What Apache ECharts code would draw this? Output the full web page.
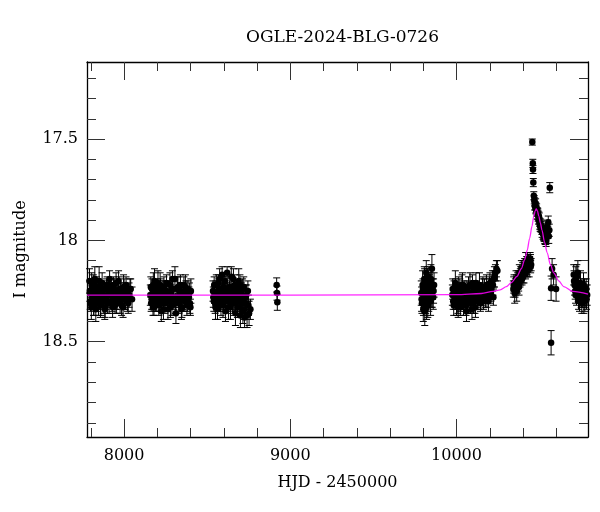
<!DOCTYPE html>
<html>
<head>
<meta charset="utf-8">
<script src="https://cdn.jsdelivr.net/npm/echarts@6/dist/echarts.min.js"></script>
<style>
  html, body { margin: 0; padding: 0; background: #fff; }
  #main { width: 600px; height: 512px; }
</style>
</head>
<body>
<div id="main"></div>
<script>
// season 1
var s1Hjd = [7792, 7796, 7800, 7803, 7806, 7809, 7812, 7815, 7818, 7822,
  7826, 7830, 7834, 7838, 7842, 7846, 7850, 7855, 7860, 7865,
  7870, 7875, 7880, 7886, 7892, 7898, 7904, 7910, 7916, 7922,
  7928, 7934, 7940, 7946, 7952, 7958, 7964, 7970, 7976, 7982,
  7988, 7994, 8000, 8006, 8012, 8020, 8030, 8040, 8048,
  7794, 7798, 7805, 7811, 7817, 7824, 7829, 7836, 7844, 7852,
  7858, 7868, 7878, 7884, 7895, 7901, 7913, 7919, 7931, 7937,
  7949, 7955, 7967, 7979, 7985, 7997, 8003, 8015, 8025, 8036]
var s1Mag = [18.20, 18.30, 18.26, 18.33, 18.24, 18.29, 18.27, 18.21, 18.31, 18.28,
  18.25, 18.34, 18.23, 18.29, 18.26, 18.31, 18.20, 18.28, 18.32, 18.25,
  18.27, 18.30, 18.24, 18.33, 18.29, 18.22, 18.27, 18.31, 18.26, 18.23,
  18.30, 18.28, 18.25, 18.32, 18.21, 18.29, 18.27, 18.24, 18.31, 18.26,
  18.28, 18.33, 18.25, 18.29, 18.22, 18.30, 18.27, 18.24, 18.29,
  18.25, 18.31, 18.22, 18.28, 18.33, 18.19, 18.26, 18.30, 18.23, 18.29,
  18.32, 18.21, 18.27, 18.34, 18.24, 18.30, 18.19, 18.26, 18.33, 18.22,
  18.28, 18.31, 18.20, 18.25, 18.32, 18.23, 18.29, 18.26, 18.31, 18.24]
var s1Err = [0.06, 0.04, 0.05, 0.06, 0.04, 0.05, 0.05, 0.04, 0.06, 0.05,
  0.04, 0.06, 0.05, 0.05, 0.04, 0.06, 0.07, 0.05, 0.05, 0.04,
  0.05, 0.06, 0.04, 0.05, 0.05, 0.04, 0.06, 0.05, 0.05, 0.04,
  0.05, 0.05, 0.06, 0.04, 0.05, 0.05, 0.04, 0.06, 0.05, 0.05,
  0.04, 0.05, 0.06, 0.05, 0.04, 0.05, 0.06, 0.05, 0.06,
  0.05, 0.04, 0.06, 0.05, 0.04, 0.06, 0.05, 0.05, 0.04, 0.05,
  0.06, 0.05, 0.04, 0.05, 0.05, 0.06, 0.04, 0.05, 0.05, 0.04,
  0.06, 0.05, 0.05, 0.04, 0.05, 0.06, 0.05, 0.04, 0.05, 0.05]

// season 2
var s2Hjd = [8158, 8163, 8168, 8172, 8176, 8180, 8185, 8190, 8194, 8199,
  8204, 8209, 8214, 8219, 8224, 8229, 8234, 8240, 8246, 8252,
  8258, 8264, 8270, 8276, 8282, 8288, 8294, 8300, 8306, 8312,
  8318, 8324, 8330, 8336, 8342, 8348, 8354, 8360, 8366, 8372,
  8378, 8384, 8390, 8396, 8402,
  8161, 8166, 8174, 8183, 8188, 8197, 8202, 8212, 8217, 8227,
  8237, 8243, 8255, 8261, 8273, 8279, 8291, 8297, 8309, 8321,
  8327, 8339, 8345, 8357, 8369, 8381, 8393, 8399]
var s2Mag = [18.27, 18.31, 18.24, 18.29, 18.22, 18.33, 18.26, 18.30, 18.25, 18.28,
  18.21, 18.32, 18.27, 18.24, 18.35, 18.29, 18.26, 18.23, 18.31, 18.28,
  18.25, 18.34, 18.30, 18.22, 18.27, 18.32, 18.24, 18.29, 18.19, 18.36,
  18.28, 18.23, 18.31, 18.27, 18.25, 18.33, 18.29, 18.22, 18.30, 18.26,
  18.32, 18.24, 18.28, 18.31, 18.25,
  18.23, 18.29, 18.33, 18.20, 18.27, 18.31, 18.24, 18.30, 18.22, 18.28,
  18.34, 18.25, 18.21, 18.30, 18.26, 18.33, 18.19, 18.28, 18.31, 18.24,
  18.29, 18.22, 18.34, 18.27, 18.23, 18.30, 18.26, 18.33]
var s2Err = [0.05, 0.04, 0.05, 0.05, 0.06, 0.04, 0.05, 0.05, 0.04, 0.05,
  0.06, 0.05, 0.04, 0.05, 0.05, 0.04, 0.06, 0.05, 0.05, 0.04,
  0.05, 0.05, 0.04, 0.06, 0.05, 0.05, 0.04, 0.05, 0.06, 0.05,
  0.04, 0.05, 0.05, 0.06, 0.04, 0.05, 0.05, 0.04, 0.05, 0.06,
  0.05, 0.04, 0.05, 0.05, 0.06,
  0.05, 0.05, 0.04, 0.06, 0.05, 0.04, 0.05, 0.05, 0.06, 0.04,
  0.05, 0.05, 0.04, 0.05, 0.06, 0.05, 0.04, 0.05, 0.05, 0.06,
  0.04, 0.05, 0.05, 0.04, 0.06, 0.05, 0.05, 0.04]

// season 3
var s3Hjd = [8535, 8540, 8545, 8550, 8555, 8560, 8565, 8570, 8575, 8580,
  8585, 8590, 8595, 8600, 8605, 8610, 8615, 8620, 8625, 8630,
  8635, 8640, 8645, 8650, 8655, 8660, 8665, 8670, 8675, 8680,
  8685, 8690, 8695, 8700, 8705, 8710, 8715, 8720, 8725, 8730,
  8735, 8740, 8745, 8752, 8760,
  8537, 8542, 8548, 8553, 8562, 8568, 8577, 8583, 8592, 8598,
  8607, 8613, 8622, 8628, 8637, 8643, 8652, 8658, 8667, 8673,
  8682, 8688, 8697, 8707, 8713, 8722, 8732, 8748]
var s3Mag = [18.25, 18.30, 18.27, 18.33, 18.22, 18.28, 18.31, 18.24, 18.19, 18.29,
  18.26, 18.17, 18.32, 18.23, 18.28, 18.35, 18.25, 18.16, 18.30, 18.27,
  18.24, 18.33, 18.18, 18.29, 18.26, 18.31, 18.22, 18.36, 18.27, 18.24,
  18.30, 18.20, 18.33, 18.37, 18.26, 18.29, 18.35, 18.23, 18.38, 18.31,
  18.27, 18.37, 18.25, 18.36, 18.34,
  18.28, 18.22, 18.31, 18.26, 18.34, 18.21, 18.27, 18.32, 18.24, 18.29,
  18.20, 18.30, 18.26, 18.33, 18.23, 18.28, 18.31, 18.19, 18.29, 18.25,
  18.33, 18.27, 18.22, 18.31, 18.24, 18.34, 18.28, 18.32]
var s3Err = [0.05, 0.05, 0.04, 0.06, 0.05, 0.05, 0.04, 0.05, 0.05, 0.06,
  0.05, 0.04, 0.06, 0.05, 0.05, 0.05, 0.04, 0.03, 0.05, 0.05,
  0.04, 0.06, 0.05, 0.05, 0.04, 0.06, 0.05, 0.06, 0.05, 0.04,
  0.05, 0.06, 0.05, 0.06, 0.05, 0.04, 0.06, 0.05, 0.05, 0.06,
  0.05, 0.06, 0.05, 0.06, 0.05,
  0.05, 0.04, 0.05, 0.06, 0.05, 0.04, 0.05, 0.05, 0.06, 0.05,
  0.04, 0.05, 0.05, 0.06, 0.05, 0.04, 0.05, 0.05, 0.06, 0.05,
  0.05, 0.04, 0.05, 0.06, 0.05, 0.05, 0.06, 0.05]

// lone points
var s3bHjd = [8918, 8920, 8922]
var s3bMag = [18.22, 18.26, 18.305]
var s3bErr = [0.035, 0.035, 0.04]

// season 4
var s4Hjd = [9788, 9792, 9796, 9800, 9803, 9806, 9809, 9812, 9815, 9818,
  9821, 9824, 9827, 9830, 9833, 9836, 9840, 9844, 9848, 9852,
  9856, 9860, 9865,
  9790, 9798, 9801, 9808, 9814, 9820, 9826, 9832, 9838, 9846,
  9854, 9862]
var s4Mag = [18.26, 18.31, 18.22, 18.34, 18.28, 18.19, 18.35, 18.25, 18.30, 18.16,
  18.27, 18.23, 18.32, 18.18, 18.29, 18.25, 18.21, 18.30, 18.27, 18.14,
  18.24, 18.28, 18.22,
  18.29, 18.24, 18.31, 18.21, 18.27, 18.33, 18.20, 18.26, 18.23, 18.19,
  18.28, 18.25]
var s4Err = [0.06, 0.05, 0.07, 0.06, 0.05, 0.06, 0.07, 0.05, 0.06, 0.06,
  0.05, 0.07, 0.06, 0.05, 0.06, 0.06, 0.05, 0.07, 0.06, 0.07,
  0.05, 0.06, 0.06,
  0.06, 0.05, 0.06, 0.07, 0.05, 0.06, 0.06, 0.05, 0.06, 0.07,
  0.05, 0.06]

// season 5
var s5Hjd = [9975, 9980, 9985, 9990, 9995, 10000, 10005, 10010, 10015, 10020,
  10025, 10030, 10036, 10042, 10048, 10054, 10060, 10066, 10072, 10078,
  10084, 10090, 10096, 10102, 10108, 10114, 10120, 10126, 10132, 10138,
  10144, 10150, 10156, 10162, 10168, 10174, 10180, 10186, 10192, 10198,
  10204, 10210, 10216, 10222, 10228, 10234, 10240, 10246,
  9977, 9983, 9988, 9993, 9998, 10003, 10008, 10013, 10018, 10023,
  10028, 10033, 10039, 10045, 10051, 10057, 10063, 10069, 10075, 10081,
  10087, 10093, 10099, 10105, 10111, 10117, 10123, 10135, 10147, 10159,
  10171, 10183, 10195, 10201, 10207, 10219, 10225]
var s5Mag = [18.27, 18.30, 18.25, 18.29, 18.23, 18.31, 18.27, 18.33, 18.26, 18.24,
  18.30, 18.28, 18.22, 18.32, 18.27, 18.25, 18.35, 18.29, 18.23, 18.28,
  18.31, 18.26, 18.21, 18.30, 18.27, 18.33, 18.24, 18.29, 18.26, 18.22,
  18.31, 18.27, 18.24, 18.30, 18.25, 18.28, 18.22, 18.26, 18.30, 18.23,
  18.27, 18.24, 18.20, 18.28, 18.18, 18.16, 18.14, 18.15,
  18.24, 18.32, 18.27, 18.21, 18.29, 18.25, 18.31, 18.23, 18.28, 18.33,
  18.26, 18.22, 18.30, 18.25, 18.28, 18.32, 18.24, 18.27, 18.31, 18.22,
  18.29, 18.34, 18.26, 18.24, 18.30, 18.21, 18.28, 18.25, 18.29, 18.23,
  18.26, 18.29, 18.24, 18.21, 18.26, 18.22, 18.19]
var s5Err = [0.05, 0.04, 0.05, 0.05, 0.04, 0.06, 0.05, 0.05, 0.04, 0.05,
  0.05, 0.04, 0.06, 0.05, 0.05, 0.04, 0.05, 0.06, 0.05, 0.04,
  0.05, 0.05, 0.04, 0.06, 0.05, 0.05, 0.04, 0.05, 0.05, 0.06,
  0.04, 0.05, 0.05, 0.04, 0.06, 0.05, 0.05, 0.04, 0.05, 0.05,
  0.04, 0.05, 0.05, 0.04, 0.05, 0.04, 0.04, 0.05,
  0.05, 0.05, 0.04, 0.06, 0.05, 0.04, 0.05, 0.05, 0.06, 0.04,
  0.05, 0.05, 0.04, 0.05, 0.06, 0.05, 0.04, 0.05, 0.05, 0.06,
  0.04, 0.05, 0.05, 0.04, 0.06, 0.05, 0.05, 0.04, 0.05, 0.05,
  0.05, 0.04, 0.05, 0.05, 0.04, 0.05, 0.04]

// season 6, rising branch
var s6Hjd = [10342, 10346, 10350, 10354, 10358, 10362, 10366, 10370, 10374, 10378,
  10382, 10386, 10390, 10394, 10398, 10402, 10406, 10410, 10413, 10416,
  10419, 10422, 10425, 10428, 10431, 10434, 10437, 10440, 10443, 10446,
  10449,
  10344, 10352, 10360, 10368, 10376, 10384, 10392, 10400, 10408, 10415,
  10421, 10427, 10433, 10439, 10445]
var s6Mag = [18.24, 18.21, 18.26, 18.23, 18.19, 18.25, 18.22, 18.18, 18.21, 18.16,
  18.20, 18.17, 18.14, 18.19, 18.15, 18.13, 18.17, 18.12, 18.15, 18.10,
  18.14, 18.11, 18.13, 18.09, 18.12, 18.10, 18.14, 18.11, 18.09, 18.13,
  18.12,
  18.22, 18.24, 18.21, 18.19, 18.23, 18.18, 18.16, 18.17, 18.14, 18.16,
  18.12, 18.15, 18.11, 18.12, 18.10]
var s6Err = [0.04, 0.04, 0.05, 0.04, 0.04, 0.05, 0.04, 0.03, 0.04, 0.04,
  0.03, 0.04, 0.04, 0.03, 0.04, 0.03, 0.04, 0.03, 0.03, 0.04,
  0.03, 0.03, 0.04, 0.03, 0.03, 0.03, 0.04, 0.03, 0.03, 0.03,
  0.03,
  0.04, 0.04, 0.04, 0.03, 0.04, 0.04, 0.03, 0.04, 0.03, 0.03,
  0.03, 0.03, 0.03, 0.03, 0.03]

// season 6, peak and decline
var s6pHjd = [10456, 10459, 10460, 10462, 10465, 10468,
  10470, 10473, 10476, 10479, 10482, 10485, 10488, 10491, 10494, 10497, 10500, 10503,
  10506, 10509, 10512, 10515, 10518, 10521, 10524, 10527, 10530, 10533, 10536, 10539,
  10471, 10477, 10483, 10489, 10495, 10501, 10507, 10513, 10519, 10525, 10531, 10537,
  10546, 10549, 10552, 10555, 10558,
  10561,
  10569, 10575, 10584, 10599, 10569]
var s6pMag = [17.515, 17.62, 17.65, 17.715, 17.78, 17.80,
  17.81, 17.83, 17.82, 17.85, 17.84, 17.87, 17.86, 17.88, 17.90, 17.89, 17.91, 17.93,
  17.92, 17.94, 17.93, 17.96, 17.95, 17.97, 17.96, 17.98, 17.97, 17.99, 17.98, 18.00,
  17.83, 17.84, 17.86, 17.87, 17.88, 17.92, 17.93, 17.95, 17.94, 17.97, 17.99, 17.99,
  17.93, 17.96, 17.91, 17.98, 17.95,
  17.74,
  18.236, 18.14, 18.17, 18.24, 18.505]
var s6pErr = [0.015, 0.02, 0.02, 0.02, 0.02, 0.02,
  0.02, 0.02, 0.025, 0.02, 0.02, 0.025, 0.02, 0.025, 0.02, 0.025, 0.02, 0.025,
  0.025, 0.02, 0.025, 0.025, 0.02, 0.025, 0.03, 0.025, 0.025, 0.03, 0.025, 0.03,
  0.02, 0.025, 0.02, 0.025, 0.02, 0.025, 0.025, 0.02, 0.025, 0.03, 0.025, 0.03,
  0.03, 0.03, 0.03, 0.035, 0.03,
  0.025,
  0.06, 0.05, 0.05, 0.06, 0.06]

// season 7
var s7Hjd = [10705, 10710, 10714, 10718, 10722, 10726, 10730, 10734, 10738, 10742,
  10746, 10750, 10754, 10758, 10762, 10766, 10770, 10774, 10778, 10782, 10786,
  10707, 10716, 10724, 10732, 10740, 10748, 10756, 10764, 10772, 10780]
var s7Mag = [18.17, 18.22, 18.25, 18.19, 18.27, 18.23, 18.16, 18.29, 18.24, 18.26,
  18.21, 18.28, 18.31, 18.25, 18.27, 18.30, 18.24, 18.28, 18.26, 18.29, 18.27,
  18.20, 18.27, 18.18, 18.25, 18.30, 18.23, 18.28, 18.22, 18.30, 18.24]
var s7Err = [0.05, 0.05, 0.04, 0.06, 0.05, 0.05, 0.06, 0.05, 0.04, 0.05,
  0.06, 0.05, 0.05, 0.04, 0.05, 0.06, 0.05, 0.05, 0.04, 0.05, 0.05,
  0.05, 0.04, 0.06, 0.05, 0.05, 0.04, 0.05, 0.06, 0.05, 0.05]

// model curve
var modelHjd = [7777, 9000, 10000, 10150, 10220, 10263, 10300, 10330, 10364, 10390,
  10410, 10425, 10440, 10454, 10465, 10473, 10480, 10487, 10495, 10505,
  10514, 10530, 10545, 10565, 10585, 10615, 10645, 10700, 10791]
var modelMag = [18.27, 18.27, 18.268, 18.262, 18.252, 18.244, 18.228, 18.208, 18.178, 18.14,
  18.095, 18.05, 17.99, 17.93, 17.88, 17.855, 17.845, 17.855, 17.88, 17.915,
  17.95, 18.01, 18.06, 18.12, 18.16, 18.2, 18.228, 18.252, 18.265]

var xMajor = [8000, 9000, 10000]
var xMinor = [7800, 8200, 8400, 8600, 8800, 9200, 9400, 9600, 9800, 10200, 10400, 10600]
var yMajor = [17.5, 18, 18.5]
var yMinor = [17.2, 17.3, 17.4, 17.6, 17.7, 17.8, 17.9, 18.1, 18.2, 18.3, 18.4, 18.6, 18.7, 18.8, 18.9]

var X_MIN = 7777, X_MAX = 10791
var Y_MIN = 17.12, Y_MAX = 18.97
var FONT = 'DejaVu Serif'

var hjd = [].concat(s1Hjd, s2Hjd, s3Hjd, s3bHjd, s4Hjd, s5Hjd, s6Hjd, s6pHjd, s7Hjd)
var mag = [].concat(s1Mag, s2Mag, s3Mag, s3bMag, s4Mag, s5Mag, s6Mag, s6pMag, s7Mag)
var err = [].concat(s1Err, s2Err, s3Err, s3bErr, s4Err, s5Err, s6Err, s6pErr, s7Err)

var points = hjd.map(function (t, i) { return [t, mag[i], err[i]] })
var model = modelHjd.map(function (t, i) { return [t, modelMag[i]] })

function plain(v) { return String(v) }

// one axis per tick set, so major and minor ticks can have different lengths
function xAx(pos, ticks, len, withLabel) {
  return {
    type: 'value', position: pos, min: X_MIN, max: X_MAX,
    axisLine: { show: withLabel !== undefined, onZero: false, lineStyle: { color: '#000', width: 1.3 } },
    axisTick: { show: true, inside: true, length: len, customValues: ticks, lineStyle: { color: '#333', width: 1 } },
    axisLabel: withLabel ? { show: true, customValues: xMajor, formatter: plain, margin: 11, color: '#000', fontFamily: FONT, fontSize: 16 } : { show: false },
    splitLine: { show: false },
    name: withLabel ? 'HJD - 2450000' : '',
    nameLocation: 'middle', nameGap: 38,
    nameTextStyle: { color: '#000', fontFamily: FONT, fontSize: 16 }
  }
}
function yAx(pos, ticks, len, withLabel) {
  return {
    type: 'value', position: pos, min: Y_MIN, max: Y_MAX, inverse: true,
    axisLine: { show: withLabel !== undefined, onZero: false, lineStyle: { color: '#000', width: 1.3 } },
    axisTick: { show: true, inside: true, length: len, customValues: ticks, lineStyle: { color: '#333', width: 1 } },
    axisLabel: withLabel ? { show: true, customValues: yMajor, formatter: plain, margin: 9, color: '#000', fontFamily: FONT, fontSize: 16 } : { show: false },
    splitLine: { show: false },
    name: withLabel ? 'I magnitude' : '',
    nameLocation: 'middle', nameGap: 58, nameRotate: 90,
    nameTextStyle: { color: '#000', fontFamily: FONT, fontSize: 16 }
  }
}

var chart = echarts.init(document.getElementById('main'))
var option = {
  backgroundColor: '#fff',
  animation: false,
  title: {
    text: 'OGLE-2024-BLG-0726',
    left: 337.5, top: 24, textAlign: 'center',
    textStyle: { color: '#000', fontFamily: FONT, fontSize: 17, fontWeight: 'normal' }
  },
  grid: { left: 87, right: 12, top: 62, bottom: 75 },
  xAxis: [
    xAx('bottom', xMajor, 18, true),
    xAx('bottom', xMinor, 9),
    xAx('top', xMajor, 18, false),
    xAx('top', xMinor, 9)
  ],
  yAxis: [
    yAx('left', yMajor, 18, true),
    yAx('left', yMinor, 9),
    yAx('right', yMajor, 18, false),
    yAx('right', yMinor, 9)
  ],
  series: [
    {
      // error bars
      type: 'custom',
      z: 2,
      data: points,
      encode: { x: 0, y: 1 },
      renderItem: function (params, api) {
        var x = api.value(0), m = api.value(1), e = api.value(2)
        var hi = api.coord([x, m - e]), lo = api.coord([x, m + e])
        var w = 3.5
        var st = { stroke: '#000', lineWidth: 1 }
        return {
          type: 'group',
          children: [
            { type: 'line', shape: { x1: hi[0], y1: hi[1], x2: lo[0], y2: lo[1] }, style: st },
            { type: 'line', shape: { x1: hi[0] - w, y1: hi[1], x2: hi[0] + w, y2: hi[1] }, style: st },
            { type: 'line', shape: { x1: lo[0] - w, y1: lo[1], x2: lo[0] + w, y2: lo[1] }, style: st }
          ]
        }
      }
    },
    {
      type: 'scatter',
      z: 3,
      symbol: 'circle',
      symbolSize: 6.5,
      itemStyle: { color: '#000', opacity: 1 },
      data: points
    },
    {
      type: 'line',
      z: 4,
      data: model,
      smooth: 0.3,
      smoothMonotone: 'x',
      symbol: 'none',
      lineStyle: { color: '#ff00ff', width: 1.3, opacity: 0.85 }
    }
  ]
}
chart.setOption(option)
</script>
</body>
</html>
